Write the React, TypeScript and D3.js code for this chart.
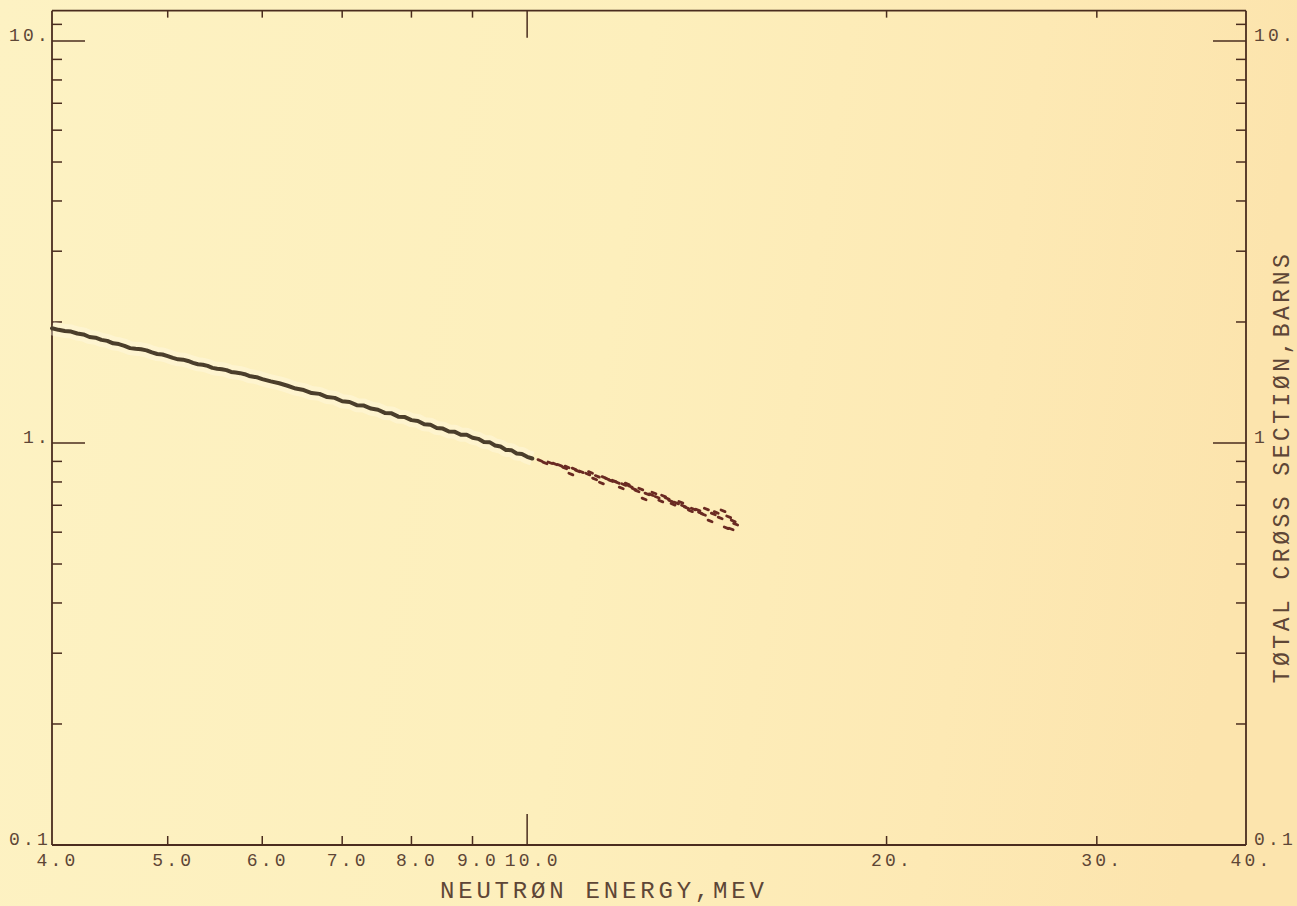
import React from 'react';
import * as d3 from 'd3';

const W = 1297;
const H = 906;

// Axis definitions
const xTickValues = [4, 5, 6, 7, 8, 9, 10, 20, 30, 40];
const xTickLabels = ['4.0', '5.0', '6.0', '7.0', '8.0', '9.0', '10.0', '20.', '30.', '40.'];
const xMajorTicks = [10];
const xMinorTicks = [5, 6, 7, 8, 9, 20, 30];
const yMajorTicks = [1, 10];
const yMinorTicks = [0.2, 0.3, 0.4, 0.5, 0.6, 0.7, 0.8, 0.9, 2, 3, 4, 5, 6, 7, 8, 9, 11];
const yLabelValues = [10, 1, 0.1];
const yLeftLabels = ['10.', '1.', '0.1'];
const yRightLabels = ['10.', '1', '0.1'];

// Continuous trace (4 - 10 MeV)
const lineEnergy = [
  4.0, 4.05, 4.1, 4.15, 4.2, 4.25, 4.3, 4.35, 4.4, 4.45, 4.5, 4.55, 4.6, 4.65, 4.7, 4.75, 4.8, 4.85, 4.9, 4.95,
  5.0, 5.05, 5.1, 5.15, 5.2, 5.25, 5.3, 5.35, 5.4, 5.45, 5.5, 5.55, 5.6, 5.65, 5.7, 5.75, 5.8, 5.85, 5.9, 5.95,
  6.0, 6.1, 6.2, 6.3, 6.4, 6.5, 6.6, 6.7, 6.8, 6.9, 7.0, 7.1, 7.2, 7.3, 7.4, 7.5, 7.6, 7.7, 7.8, 7.9,
  8.0, 8.1, 8.2, 8.3, 8.4, 8.5, 8.6, 8.7, 8.8, 8.9, 9.0, 9.1, 9.2, 9.3, 9.4, 9.5, 9.6, 9.7, 9.8, 9.9,
  10.0, 10.1,
];
const lineSigma = [
  1.93, 1.912, 1.90, 1.893, 1.872, 1.862, 1.835, 1.828, 1.805, 1.795, 1.77, 1.762, 1.745, 1.722, 1.715, 1.71, 1.70, 1.68, 1.665, 1.66,
  1.645, 1.628, 1.615, 1.612, 1.60, 1.583, 1.57, 1.566, 1.555, 1.538, 1.53, 1.526, 1.518, 1.502, 1.497, 1.492, 1.483, 1.468, 1.462, 1.455,
  1.442, 1.423, 1.408, 1.388, 1.366, 1.354, 1.331, 1.325, 1.301, 1.295, 1.270, 1.265, 1.242, 1.239, 1.218, 1.210, 1.188, 1.185, 1.163, 1.160,
  1.140, 1.135, 1.113, 1.110, 1.090, 1.086, 1.068, 1.066, 1.048, 1.048, 1.031, 1.024, 1.006, 1.005, 0.986, 0.980, 0.961, 0.960, 0.942, 0.939,
  0.924, 0.915,
];

// Scattered points (10 - 15 MeV)
const dotEnergy = [
  10.25, 10.35, 10.45, 10.55, 10.65, 10.75, 10.8, 10.88, 10.95, 11.02, 11.1, 11.24, 11.3, 11.39, 11.45, 11.54,
  11.6, 11.67, 11.75, 11.83, 11.9, 11.99, 12.05, 12.13, 12.2, 12.29, 12.36, 12.45, 12.53, 12.6, 12.7, 12.77,
  12.85, 12.94, 13.01, 13.1, 13.19, 13.25, 13.34, 13.45, 13.52, 13.6, 13.7, 13.78, 13.9, 13.97, 14.05, 14.13,
  14.23, 14.32, 14.4, 14.51, 14.59, 14.68, 14.75, 14.82, 14.88, 14.95,
];
const dotSigma = [
  0.905, 0.892, 0.893, 0.887, 0.880, 0.867, 0.872, 0.837, 0.862, 0.852, 0.848, 0.837, 0.845, 0.814, 0.826, 0.795,
  0.821, 0.814, 0.806, 0.804, 0.797, 0.773, 0.788, 0.791, 0.780, 0.768, 0.760, 0.768, 0.726, 0.747, 0.744, 0.751,
  0.733, 0.717, 0.738, 0.728, 0.717, 0.704, 0.709, 0.712, 0.697, 0.690, 0.678, 0.685, 0.681, 0.670, 0.664, 0.685,
  0.640, 0.666, 0.672, 0.651, 0.678, 0.615, 0.655, 0.611, 0.640, 0.628,
];

const FONT = "'Liberation Mono', 'DejaVu Sans Mono', monospace";
const AXIS = '#4a2c1e';
const TEXT = '#5e4636';

export default function App() {
  const x = d3.scaleLog().domain([4, 40]).range([52, 1246]);
  const y = d3.scaleLog().domain([0.1, 10]).range([845, 41]);

  const left = x(4);
  const right = x(40);
  const bottom = y(0.1);
  const top = y(11.9);

  const line = d3
    .line<number>()
    .x((_, i) => x(lineEnergy[i]))
    .y((d) => y(d))
    .curve(d3.curveLinear);
  const pathD = line(lineSigma) || '';

  const minorLen = 9;
  const majorLen = 31;

  return (
    <svg
      width={W}
      height={H}
      style={{ position: 'absolute', left: 0, top: 0, display: 'block' }}
      xmlns="http://www.w3.org/2000/svg"
    >
      <defs>
        <linearGradient id="bg" x1="0" y1="0" x2="1" y2="0.1">
          <stop offset="0" stopColor="#fdf2c3" />
          <stop offset="0.5" stopColor="#fdefbc" />
          <stop offset="0.8" stopColor="#fde9b4" />
          <stop offset="1" stopColor="#fce4ad" />
        </linearGradient>
      </defs>
      <rect x={0} y={0} width={W} height={H} fill="url(#bg)" />

      {/* frame */}
      <g stroke={AXIS} strokeWidth={1.8} fill="none">
        <line x1={left} y1={top} x2={left} y2={bottom} />
        <line x1={left} y1={bottom} x2={right} y2={bottom} />
        <line x1={right} y1={top} x2={right} y2={bottom} />
        <line x1={left} y1={top} x2={right} y2={top} />
      </g>

      {/* x ticks bottom & top */}
      <g stroke={AXIS} strokeWidth={1.5}>
        {xMinorTicks.map((v) => (
          <g key={'xm' + v}>
            <line x1={x(v)} x2={x(v)} y1={bottom} y2={bottom - minorLen} />
            <line x1={x(v)} x2={x(v)} y1={top} y2={top + 7} />
          </g>
        ))}
        {xMajorTicks.map((v) => (
          <g key={'xM' + v}>
            <line x1={x(v)} x2={x(v)} y1={bottom} y2={bottom - majorLen} />
            <line x1={x(v)} x2={x(v)} y1={top} y2={top + majorLen - 4} />
          </g>
        ))}
      </g>

      {/* y ticks left & right */}
      <g stroke={AXIS} strokeWidth={1.5}>
        {yMinorTicks.map((v) => (
          <g key={'ym' + v}>
            <line x1={left} x2={left + 10} y1={y(v)} y2={y(v)} />
            <line x1={right} x2={right - 10} y1={y(v)} y2={y(v)} />
          </g>
        ))}
        {yMajorTicks.map((v) => (
          <g key={'yM' + v}>
            <line x1={left} x2={left + 33} y1={y(v)} y2={y(v)} />
            <line x1={right} x2={right - 33} y1={y(v)} y2={y(v)} />
          </g>
        ))}
      </g>

      {/* x tick labels */}
      <g fontFamily={FONT} fontSize={18} fill={TEXT} letterSpacing={3.2} textAnchor="middle">
        {xTickValues.map((v, i) => (
          <text key={'xl' + v} x={x(v) + 5.5} y={bottom + 21}>
            {xTickLabels[i]}
          </text>
        ))}
      </g>

      {/* y tick labels */}
      <g fontFamily={FONT} fontSize={18} fill={TEXT} letterSpacing={3.2}>
        {yLabelValues.map((v, i) => (
          <text key={'yl' + v} x={left - 1} y={y(v)} textAnchor="end">
            {yLeftLabels[i]}
          </text>
        ))}
        {yLabelValues.map((v, i) => (
          <text key={'yr' + v} x={right + 8} y={y(v)} textAnchor="start">
            {yRightLabels[i]}
          </text>
        ))}
      </g>

      {/* axis titles */}
      <text x={440} y={898} fontFamily={FONT} fontSize={24} letterSpacing={3.8} fill={TEXT}>
        NEUTRØN ENERGY,MEV
      </text>
      <text
        transform={`translate(1289, 467) rotate(-90)`}
        fontFamily={FONT}
        fontSize={23}
        letterSpacing={3.5}
        fill={TEXT}
        textAnchor="middle"
      >
        TØTAL CRØSS SECTIØN,BARNS
      </text>

      {/* data */}
      <path d={pathD} fill="none" stroke="#fffbe6" strokeOpacity={0.4} strokeWidth={14} strokeLinejoin="round" />
      <path d={pathD} fill="none" stroke="#4b3e2b" strokeWidth={4} strokeLinejoin="round" strokeLinecap="round" />
      <g stroke="#6a2a22" strokeWidth={2.8} strokeLinecap="round">
        {dotEnergy.map((e, i) => {
          const cx = x(e);
          const cy = y(dotSigma[i]);
          return <line key={'d' + i} x1={cx - 2} y1={cy - 0.8} x2={cx + 2} y2={cy + 0.8} />;
        })}
      </g>
    </svg>
  );
}
